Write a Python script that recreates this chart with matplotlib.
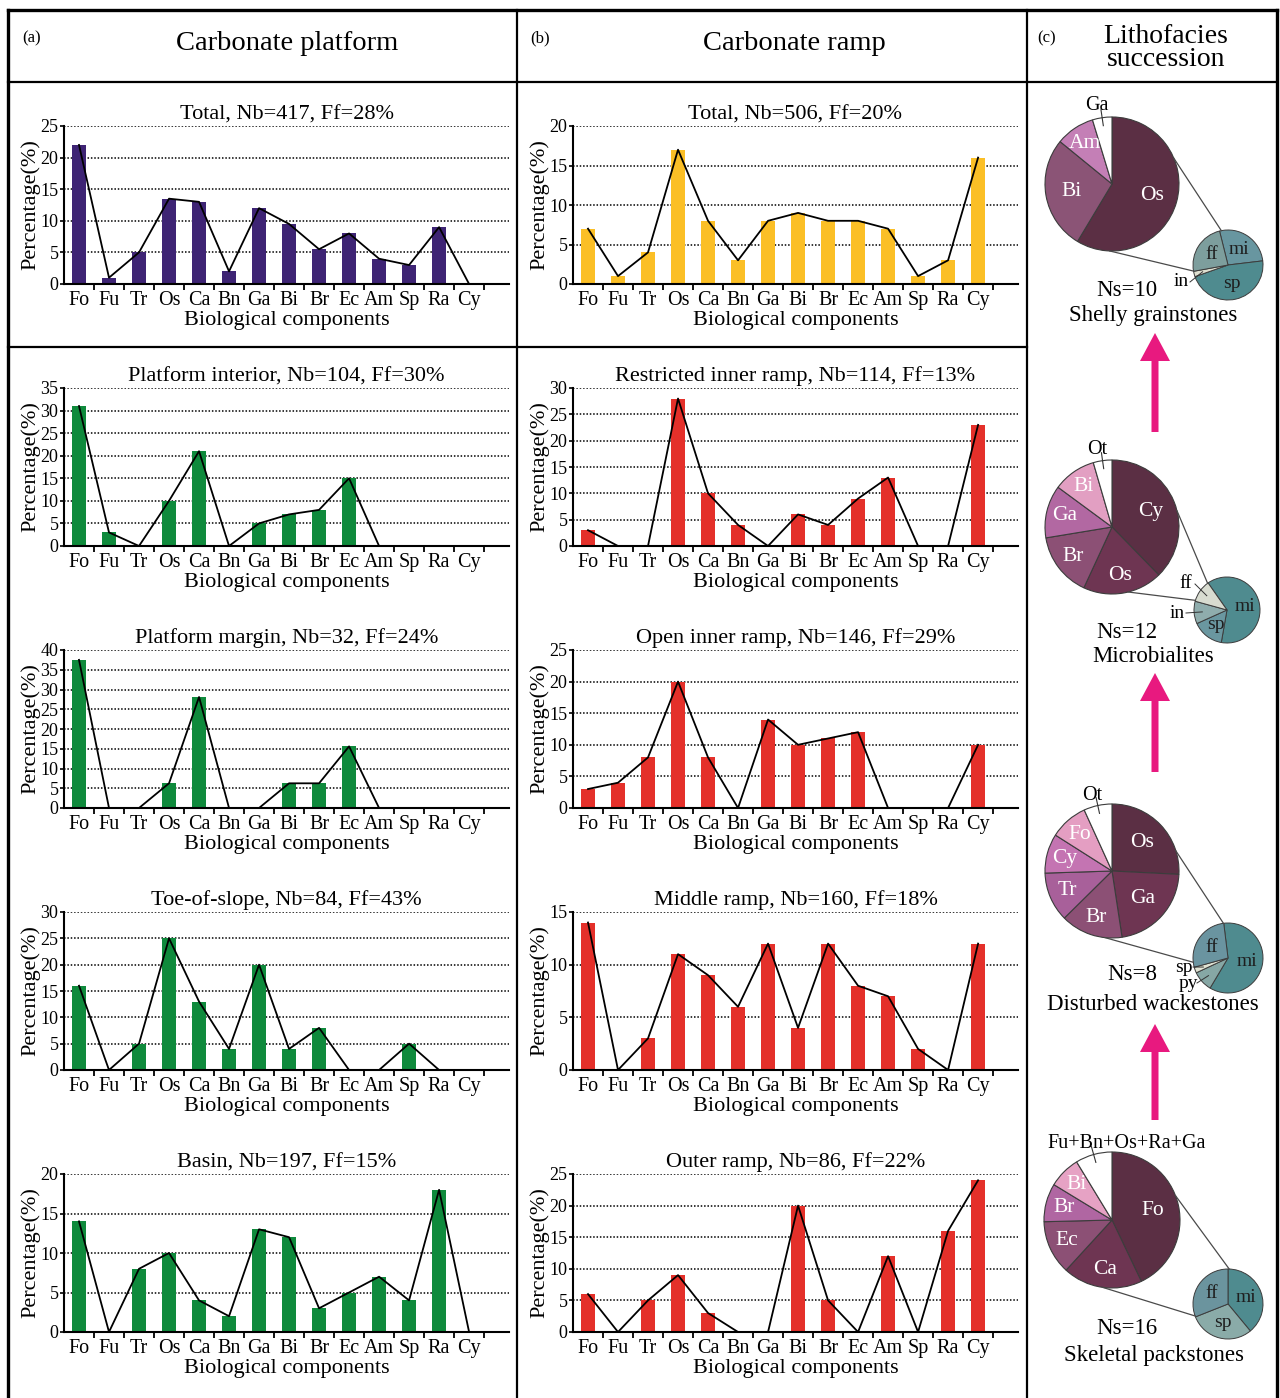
import matplotlib
matplotlib.use("Agg")
import matplotlib.pyplot as plt
import numpy as np
from matplotlib.patches import FancyArrow

plt.rcParams['font.family'] = ['Liberation Serif', 'DejaVu Serif']
plt.rcParams['mathtext.default'] = 'regular'

W, H = 1280, 1398

# ---------------- data ----------------
categories = ['Fo', 'Fu', 'Tr', 'Os', 'Ca', 'Bn', 'Ga', 'Bi', 'Br', 'Ec', 'Am', 'Sp', 'Ra', 'Cy']

platform_total = [22, 1, 5, 13.5, 13, 2, 12, 9.5, 5.5, 8, 4, 3, 9, 0]
platform_interior = [31, 3, 0, 10, 21, 0, 5, 7, 8, 15, 0, 0, 0, 0]
platform_margin = [37.5, 0, 0, 6.25, 28.1, 0, 0, 6.25, 6.25, 15.6, 0, 0, 0, 0]
toe_of_slope = [16, 0, 5, 25, 13, 4, 20, 4, 8, 0, 0, 5, 0, 0]
basin = [14, 0, 8, 10, 4, 2, 13, 12, 3, 5, 7, 4, 18, 0]

ramp_total = [7, 1, 4, 17, 8, 3, 8, 9, 8, 8, 7, 1, 3, 16]
restricted_inner_ramp = [3, 0, 0, 28, 10, 4, 0, 6, 4, 9, 13, 0, 0, 23]
open_inner_ramp = [3, 4, 8, 20, 8, 0, 14, 10, 11, 12, 0, 0, 0, 10]
middle_ramp = [14, 0, 3, 11, 9, 6, 12, 4, 12, 8, 7, 2, 0, 12]
outer_ramp = [6, 0, 5, 9, 3, 0, 0, 20, 5, 0, 12, 0, 16, 24]

platform_titles = ['Total, Nb=417, Ff=28%', 'Platform interior, Nb=104, Ff=30%',
                   'Platform margin, Nb=32, Ff=24%', 'Toe-of-slope, Nb=84, Ff=43%',
                   'Basin, Nb=197, Ff=15%']
platform_ymax = [25, 35, 40, 30, 20]
ramp_titles = ['Total, Nb=506, Ff=20%', 'Restricted inner ramp, Nb=114, Ff=13%',
               'Open inner ramp, Nb=146, Ff=29%', 'Middle ramp, Nb=160, Ff=18%',
               'Outer ramp, Nb=86, Ff=22%']
ramp_ymax = [20, 30, 25, 15, 25]

# lithofacies compositions (biological components / matrix types, %)
shelly_bio_labels = ['Os', 'Bi', 'Am', 'Ga']
shelly_bio_values = [58.6, 27.3, 9.4, 4.7]
shelly_mat_labels = ['mi', 'sp', 'in', 'ff']
shelly_mat_values = [27, 46.5, 2.5, 24]

microb_bio_labels = ['Cy', 'Os', 'Br', 'Ga', 'Bi', 'Ot']
microb_bio_values = [37.7, 19.2, 15.5, 12.7, 10.4, 4.5]
microb_mat_labels = ['mi', 'sp', 'in', 'ff']
microb_mat_values = [62.5, 15.5, 11, 11]

wacke_bio_labels = ['Os', 'Ga', 'Br', 'Tr', 'Cy', 'Fo', 'Ot']
wacke_bio_values = [25.8, 21.8, 15.0, 11.9, 9.5, 9.2, 6.8]
wacke_mat_labels = ['mi', 'py', 'sp', 'ff']
wacke_mat_values = [60.5, 9.5, 2.7, 27.3]

pack_bio_labels = ['Fo', 'Ca', 'Ec', 'Br', 'Bi', 'Fu+Bn+Os+Ra+Ga']
pack_bio_values = [42.9, 18.9, 12.8, 9.1, 7.6, 8.7]
pack_mat_labels = ['mi', 'sp', 'ff']
pack_mat_values = [39, 30, 31]

succession_names = ['Shelly grainstones', 'Microbialites', 'Disturbed wackestones', 'Skeletal packstones']
succession_ns = [10, 12, 8, 16]

# ---------------- figure ----------------
fig = plt.figure(figsize=(W / 100, H / 100), dpi=100)
bg = fig.add_axes([0, 0, 1, 1], zorder=0)
bg.patch.set_alpha(0)


def Y(y):
    return H - y


def frame_line(x0, y0, x1, y1, lw):
    bg.plot([x0, x1], [Y(y0), Y(y1)], color='black', lw=lw, solid_capstyle='projecting')


# table frame
frame_line(8, 10, 1277, 10, 2.4)
frame_line(8, 10, 8, 1398, 2.4)
frame_line(1277, 10, 1277, 1398, 2.4)
frame_line(8, 82, 1277, 82, 1.6)
frame_line(517, 10, 517, 1398, 1.6)
frame_line(1027, 10, 1027, 1398, 1.6)
frame_line(8, 347, 1027, 347, 1.6)

# headers
bg.text(22, Y(38), '(a)', fontsize=12, ha='left', va='center')
bg.text(287, Y(44), 'Carbonate platform', fontsize=20.5, ha='center', va='center')
bg.text(530, Y(38), '(b)', fontsize=12, ha='left', va='center')
bg.text(794, Y(44), 'Carbonate ramp', fontsize=20.5, ha='center', va='center')
bg.text(1037, Y(38), '(c)', fontsize=12, ha='left', va='center')
bg.text(1166, Y(48), 'Lithofacies\nsuccession', fontsize=20, ha='center', va='center',
        linespacing=0.85)


# ---------------- bar panels ----------------
def bar_panel(left, top, title, values, color, ymax):
    width, height = 445, 158
    ax = fig.add_axes([left / W, 1 - (top + height) / H, width / W, height / H], zorder=2)
    ax.patch.set_alpha(0)
    n = len(categories)
    x = np.arange(n) + 0.5
    ax.bar(x, values, width=0.48, color=color, zorder=2)
    ax.plot(x, values, color='black', lw=1.3, zorder=3)
    ax.set_xlim(0, n + 0.83)
    ax.set_ylim(0, ymax)
    yt = np.arange(0, ymax + 1, 5)
    ax.set_yticks(yt)
    ax.set_yticklabels([str(v) for v in yt])
    for v in yt[1:]:
        ax.axhline(v, color='black', lw=1.1, ls=(0, (1, 1.2)), zorder=1)
    ax.set_xticks(x)
    ax.set_xticklabels(categories, fontsize=14.5)
    ax.set_xticks(np.arange(1, n + 1), minor=True)
    ax.tick_params(axis='x', which='major', length=0, pad=5)
    ax.tick_params(axis='x', which='minor', length=4, width=1.3, direction='out')
    ax.tick_params(axis='y', length=3, width=1.2, pad=1, labelsize=13)
    for s in ['top', 'right']:
        ax.spines[s].set_visible(False)
    for s in ['left', 'bottom']:
        ax.spines[s].set_linewidth(1.5)
    ax.set_title(title, fontsize=16, pad=5)
    ax.set_xlabel('Biological components', fontsize=16, labelpad=1)
    ax.set_ylabel('Percentage(%)', fontsize=16, labelpad=0)
    return ax


platform_series = [platform_total, platform_interior, platform_margin, toe_of_slope, basin]
ramp_series = [ramp_total, restricted_inner_ramp, open_inner_ramp, middle_ramp, outer_ramp]
row_tops = [126, 388, 650, 912, 1174]
for i in range(5):
    bar_panel(64, row_tops[i], platform_titles[i], platform_series[i],
              '#3e2474' if i == 0 else '#0f8a3c', platform_ymax[i])
    bar_panel(573, row_tops[i], ramp_titles[i], ramp_series[i],
              '#fbbf26' if i == 0 else '#e4302a', ramp_ymax[i])

# ---------------- lithofacies pies ----------------
big_palette = {
    'shelly': ['#5b2f44', '#8b5476', '#c47fb6', '#ffffff'],
    'microb': ['#5b2f44', '#6e3552', '#8c5075', '#b268a2', '#e29fc2', '#ffffff'],
    'wacke': ['#5b2f44', '#6e3552', '#8c5075', '#a8609a', '#c474b2', '#e49ec2', '#ffffff'],
    'pack': ['#5b2f44', '#6e3552', '#8c5075', '#b066a2', '#e6a2c4', '#ffffff'],
}
small_palette = {
    'shelly': ['#6896a0', '#4f8b8f', '#dfe0d0', '#7d9e9d'],
    'microb': ['#4f8b8f', '#6a97a0', '#8fadad', '#d8dcd0'],
    'wacke': ['#4f8b8f', '#86a7a5', '#e0e3d3', '#6a94a0'],
    'pack': ['#4f8b8f', '#8aaba8', '#6b949e'],
}

pies = [
    dict(key='shelly', bio=(shelly_bio_labels, shelly_bio_values),
         mat=(shelly_mat_labels, shelly_mat_values),
         big=(1112, 184, 67), small=(1228, 265, 35, 104),
         links=((22.6, 101), (-92, 190)),
         outside_big={'Ga': (1097, 106)},
         outside_small={'in': (1181, 282)},
         ns=(1127, 291), name=(1153, 315)),
    dict(key='microb', bio=(microb_bio_labels, microb_bio_values),
         mat=(microb_mat_labels, microb_mat_values),
         big=(1112, 527, 67), small=(1227, 610, 33, 125),
         links=((14, 126), (-76, 163)),
         outside_big={'Ot': (1097, 450)},
         outside_small={'ff': (1186, 584), 'in': (1177, 613)},
         ns=(1127, 632), name=(1153, 657)),
    dict(key='wacke', bio=(wacke_bio_labels, wacke_bio_values),
         mat=(wacke_mat_labels, wacke_mat_values),
         big=(1112, 871, 67), small=(1228, 958, 35, 97),
         links=((17.4, 97.5), (-96, 187)),
         outside_big={'Ot': (1092, 795)},
         outside_small={'sp': (1184, 967), 'py': (1188, 983)},
         ns=(1132, 974), name=(1153, 1004)),
    dict(key='pack', bio=(pack_bio_labels, pack_bio_values),
         mat=(pack_mat_labels, pack_mat_values),
         big=(1112, 1220, 68), small=(1228, 1304, 35, 90),
         links=((21, 88), (-98, 200)),
         outside_big={'Fu+Bn+Os+Ra+Ga': (1127, 1143)},
         outside_small={},
         ns=(1127, 1328), name=(1154, 1355)),
]


def polar(cx, cy, r, ang):
    a = np.deg2rad(ang)
    return cx + r * np.cos(a), Y(cy) + r * np.sin(a)


for p, ns, name in zip(pies, succession_ns, succession_names):
    labels, values = p['bio']
    cx, cy, r = p['big']
    wedges, _ = bg.pie(values, colors=big_palette[p['key']], center=(cx, Y(cy)), radius=r,
                       startangle=90, counterclock=False,
                       wedgeprops=dict(edgecolor='#3c3c3c', linewidth=0.8))
    for w, lab, v in zip(wedges, labels, values):
        mid = 0.5 * (w.theta1 + w.theta2)
        if lab in p['outside_big']:
            tx, ty = p['outside_big'][lab]
            x0, y0 = polar(cx, cy, r * 1.12, mid)
            x1, y1 = polar(cx, cy, r * 0.88, mid)
            bg.plot([x0, x1], [y0, y1], color='#333333', lw=0.8)
            bg.text(tx, Y(ty), lab, fontsize=14.5, ha='center', va='center')
        else:
            f = 0.62 if v > 20 else 0.73
            lx, ly = polar(cx, cy, r * f, mid)
            bg.text(lx, ly, lab, fontsize=15.5, color='white', ha='center', va='center')

    mlabels, mvalues = p['mat']
    sx, sy, sr, sstart = p['small']
    swedges, _ = bg.pie(mvalues, colors=small_palette[p['key']], center=(sx, Y(sy)), radius=sr,
                        startangle=sstart, counterclock=False,
                        wedgeprops=dict(edgecolor='#3c3c3c', linewidth=0.7))
    for w, lab in zip(swedges, mlabels):
        mid = 0.5 * (w.theta1 + w.theta2)
        if lab in p['outside_small']:
            tx, ty = p['outside_small'][lab]
            x1, y1 = polar(sx, sy, sr * 0.75, mid)
            bg.plot([tx + 9, x1], [Y(ty), y1], color='#333333', lw=0.7)
            bg.text(tx, Y(ty), lab, fontsize=14, ha='center', va='center')
        else:
            lx, ly = polar(sx, sy, sr * 0.55, mid)
            bg.text(lx, ly, lab, fontsize=14, color='#1e1e1e', ha='center', va='center')

    # zoom-out connectors between the two circles
    for a_big, a_small in p['links']:
        x0, y0 = polar(cx, cy, r, a_big)
        x1, y1 = polar(sx, sy, sr, a_small)
        bg.plot([x0, x1], [y0, y1], color='#4a4a4a', lw=0.9)

    nx, ny = p['ns']
    bg.text(nx, Y(ny), f'Ns={ns}', fontsize=16.5, ha='center', va='center')
    mx, my = p['name']
    bg.text(mx, Y(my), name, fontsize=16.5, ha='center', va='center')

# upward succession arrows
for y_bottom, y_tip in [(432, 333), (772, 673), (1120, 1024)]:
    bg.add_patch(FancyArrow(1155, Y(y_bottom), 0, y_bottom - y_tip, width=7,
                            head_width=30, head_length=28, length_includes_head=True,
                            color='#e8197f', lw=0))

bg.set_xlim(0, W)
bg.set_ylim(0, H)
bg.set_aspect('auto')
bg.axis('off')

fig.savefig('out.png', dpi=100)
